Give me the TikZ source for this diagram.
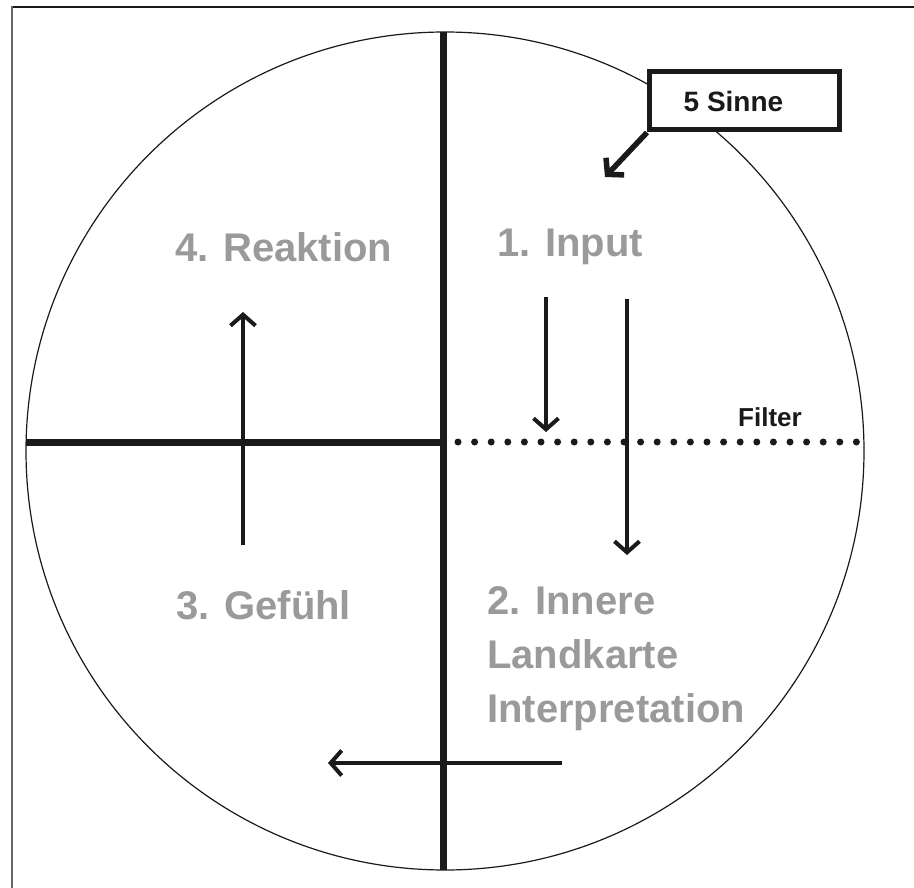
\documentclass[tikz,border=0pt]{standalone}
\usepackage{fontspec}
\setmainfont{Liberation Sans}
\usepackage{tikz}
\usetikzlibrary{positioning,arrows.meta}
\definecolor{StepGrey}{HTML}{9A9A9A}
\definecolor{InkBlack}{HTML}{1A1A1A}

\begin{document}
\begin{tikzpicture}[
  x=1pt, y=-1pt,
  >={Straight Barb[length=11pt,width=25pt]},
  step label/.style={anchor=west,inner sep=0pt,text=StepGrey,align=left,
              font=\fontsize{40}{54}\selectfont\bfseries},
  small label/.style={inner sep=0pt,text=InkBlack,font=\fontsize{26}{30}\selectfont\bfseries},
  flow/.style={->,line width=4pt,InkBlack},
  axis/.style={line width=7pt,InkBlack},
]
\useasboundingbox (0,0) rectangle (914,888);
% frame
\draw[line width=2pt,InkBlack] (914,7) -- (12,7);
\draw[line width=2pt,black!60] (12,6) -- (12,888);

% circle and quadrants
\coordinate (mid) at (443,442);
\draw[line width=1.2pt,InkBlack] (445,451) circle[radius=419];
\draw[axis] (443,32) -- (443,870);
\draw[axis] (26,442) -- (mid);
\draw[InkBlack,line width=7pt,line cap=round,dash pattern=on 0pt off 16.6pt]
  (mid) ++(15,0) -- (866,442);

% labels
\node[step label] (reak)  at (175,247) {4. Reaktion};
\node[step label] (inp)   at (497,247) {1. Input};
\node[step label] (gef)   at (176,605) {3. Gefühl};
\node[step label] (karte) at (487,659) {2. Innere\\Landkarte\\Interpretation};
\node[small label] (filter) at (770,417) {Filter};
\node[draw=InkBlack,fill=white,line width=5pt,minimum width=190pt,minimum height=58pt,
      small label,font=\fontsize{28}{30}\selectfont\bfseries] (sinne) at (744.5,101)
      {5 Sinne\hspace*{22pt}};

% arrows
\coordinate (s1) at (546,297);  \coordinate (e1) at (546,432);
\coordinate (s2) at (627,299);  \coordinate (e2) at (627,555);
\coordinate (s3) at (562,763);  \coordinate (e3) at (328,763);
\coordinate (s4) at (243,545);  \coordinate (e4) at (243,312);
\coordinate (e5) at (605,177);
\draw[flow] (s1) -- (e1);
\draw[flow] (s2) -- (e2);
\draw[flow] (s3) -- (e3);
\draw[flow] (s4) -- (e4);
\draw[flow,line width=5.5pt] (sinne.south west) -- (e5);
\end{tikzpicture}
\end{document}
